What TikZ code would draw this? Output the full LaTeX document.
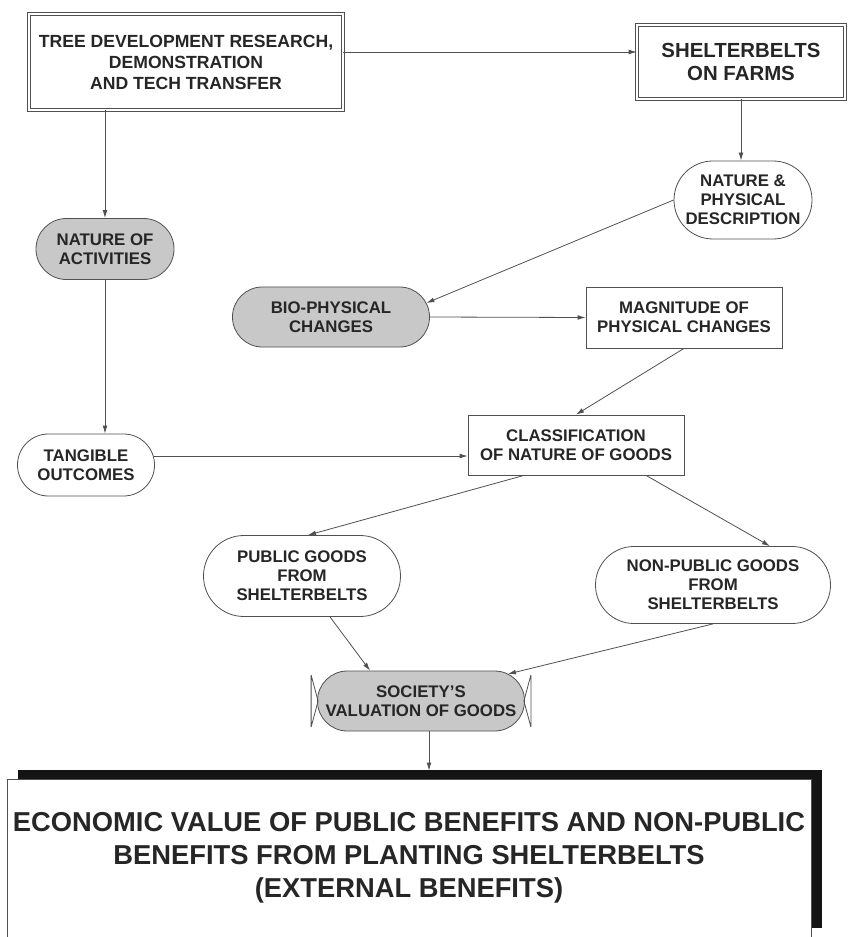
\documentclass[tikz,border=0pt]{standalone}
\usepackage{fontspec}
\setmainfont{Liberation Sans}
\usetikzlibrary{positioning,arrows.meta,calc,shadows}
\definecolor{sbgray}{RGB}{200,200,200}
\definecolor{sbline}{RGB}{80,80,80}
\definecolor{sbtext}{RGB}{38,38,38}

\begin{document}
\begin{tikzpicture}[x=0.75pt, y=-0.75pt, every node/.style={font=\bfseries, text=sbtext}]
  \tikzset{
    dbox/.style={draw=sbline, double, double distance=2.2pt, line width=0.5pt, align=center, inner sep=0pt},
    box/.style={draw=sbline, line width=0.6pt, align=center, inner sep=0pt},
    pill/.style={draw=sbline, line width=0.6pt, align=center, inner sep=0pt, rounded corners=#1},
    grey/.style={fill=sbgray},
    link/.style={draw=sbline, line width=0.6pt, -{Latex[length=6pt,width=3.6pt]}},
    midfont/.style={font=\fontsize{12.6}{14.2}\selectfont\bfseries}
  }
  \fill[white] (0,0) rectangle (848,937);
  \useasboundingbox (0,0) rectangle (848,937);

  % Top row
  \node[dbox, minimum width=235.5pt, minimum height=72pt, font=\fontsize{13.2}{15.75}\selectfont\bfseries]
    (tdr) at (186,62) {TREE DEVELOPMENT RESEARCH,\\DEMONSTRATION\\AND TECH TRANSFER};
  \node[dbox, minimum width=156pt, minimum height=55.5pt, font=\fontsize{15.3}{17.25}\selectfont\bfseries]
    (farms) at (741,62) {SHELTERBELTS\\ON FARMS};

  % Middle
  \node[pill=22.8pt, grey, midfont, minimum width=103.5pt, minimum height=45.75pt] (activ) at (105,249) {NATURE OF\\ACTIVITIES};
  \node[pill=29.2pt, midfont, minimum width=103.5pt, minimum height=58.5pt] (descr) at (743,200) {NATURE \&\\PHYSICAL\\DESCRIPTION};
  \node[pill=22.4pt, grey, midfont, minimum width=147.75pt, minimum height=45pt] (biophys) at (331,317) {BIO-PHYSICAL\\CHANGES};
  \node[box, midfont, minimum width=147pt, minimum height=45.75pt] (magn) at (684,317.5) {MAGNITUDE OF\\PHYSICAL CHANGES};
  \node[pill=23.2pt, midfont, minimum width=102.75pt, minimum height=46.5pt] (tangible) at (86,465) {TANGIBLE\\OUTCOMES};
  \node[box, midfont, minimum width=162pt, minimum height=45pt] (classif) at (576,445) {CLASSIFICATION\\OF NATURE OF GOODS};

  % Goods
  \node[pill=30.3pt, midfont, minimum width=147.75pt, minimum height=60.75pt] (public) at (302,576) {PUBLIC GOODS\\FROM\\SHELTERBELTS};
  \node[pill=28.8pt, midfont, minimum width=176.25pt, minimum height=57.75pt] (nonpublic) at (713,585) {NON-PUBLIC GOODS\\FROM\\SHELTERBELTS};
  \node[pill=22.4pt, grey, midfont, minimum width=155.25pt, minimum height=45pt] (society) at (421,701) {SOCIETY{\char"0027}S\\VALUATION OF GOODS};

  % Bottom
  \node[box, fill=white, drop shadow={shadow xshift=7.9pt, shadow yshift=6.8pt, fill=black!92, opacity=1},
        minimum width=603pt, minimum height=118.5pt, font=\fontsize{20.5}{24.75}\selectfont\bfseries]
    (econ) at (409,858) {ECONOMIC VALUE OF PUBLIC BENEFITS AND NON-PUBLIC\\BENEFITS FROM PLANTING SHELTERBELTS\\(EXTERNAL BENEFITS)};

  % end bars of the valuation node
  \draw[sbline, line width=0.6pt]
    ($(society.west)+(-6,-26)$) -- ($(society.west)+(-6,26)$)
    ($(society.west)+(-6,-26)$) -- ($(society.west)+(1,0)$) -- ($(society.west)+(-6,26)$)
    ($(society.east)+(6,-26)$) -- ($(society.east)+(6,26)$)
    ($(society.east)+(6,-26)$) -- ($(society.east)+(-1,0)$) -- ($(society.east)+(6,26)$);

  % Arrows
  \draw[link] ($(tdr.east)+(0,-10)$) -- ($(farms.west)+(0,-10)$);
  \draw[link] (activ.north |- tdr.south) -- (activ.north);
  \draw[link] (activ.south) -- (activ.south |- tangible.north);
  \draw[link] (farms.south) -- (farms.south |- descr.north);
  \draw[link] (descr.west) -- ($(biophys.east)+(-3.5,-14)$);
  \draw[link] (biophys.east) -- (magn.west);
  \draw[link] (magn.south) -- (classif.north);
  \draw[link] ($(tangible.east)+(-1,-9)$) -- ($(tangible.east -| classif.west)+(0,-9)$);
  \draw[link] ($(classif.south)+(-52,0)$) -- ($(public.north)+(6,0)$);
  \draw[link] ($(classif.south)+(70,0)$) -- ($(nonpublic.north)+(57,0)$);
  \draw[link] ($(public.south)+(28,0)$) -- ($(society.north)+(-51,0)$);
  \draw[link] (nonpublic.south) -- ($(society.east)+(-17,-27)$);
  \coordinate (valdrop) at ($(society.south)+(8,0)$);
  \coordinate (econtop) at ($(econ.north)+(0,-8)$);
  \draw[link] (valdrop) -- (valdrop |- econtop);
\end{tikzpicture}
\end{document}
